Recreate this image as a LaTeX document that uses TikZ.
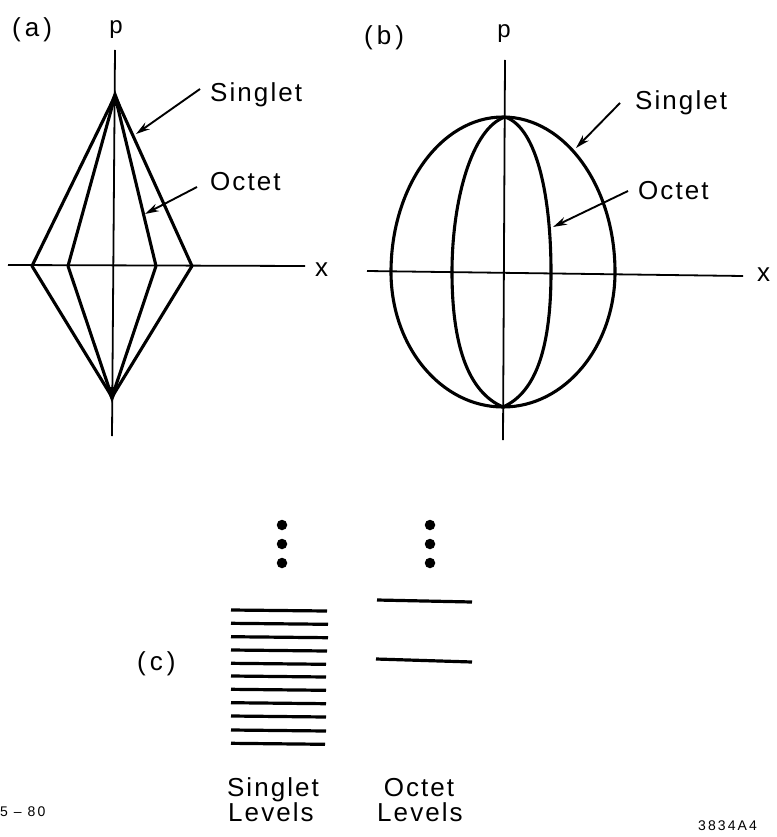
\documentclass[tikz,border=0pt]{standalone}
\usepackage{fontspec}
\setmainfont{Liberation Sans}
\newfontfamily\lab[LetterSpace=8]{Liberation Sans}
\newfontfamily\labsm[LetterSpace=15]{Liberation Sans}
\usetikzlibrary{arrows.meta}
\begin{document}
\begin{tikzpicture}[x=1pt,y=-1pt,
  axis/.style={line width=1.8pt},
  curve/.style={line width=3.1pt, line join=round},
  pointer/.style={line width=1.9pt,-{Stealth[length=14pt,width=8pt]}},
  lbl/.style={font=\lab\fontsize{26}{28}\selectfont, inner sep=0pt},
  plbl/.style={font=\lab\fontsize{24}{26}\selectfont, inner sep=0pt},
  level/.style={line width=3.2pt},
  dot/.style={circle, fill, inner sep=0pt, minimum size=10.5pt},
  small/.style={font=\labsm\fontsize{14}{16}\selectfont, inner sep=0pt}]
\useasboundingbox (0,0) rectangle (776,837);

% ---------------- panel (a) ----------------
\coordinate (ap1) at (115,50);
\coordinate (ap2) at (112,436);
\coordinate (ax1) at (8,265);
\coordinate (ax2) at (305,266);
\draw[axis] (ap1) -- (ap2);
\draw[axis] (ax1) -- (ax2);
\coordinate (aT) at (115,96);
\coordinate (aB) at (112,397);
\coordinate (aL1) at (32,266);
\coordinate (aL2) at (68,266);
\coordinate (aR2) at (156,266);
\coordinate (aR1) at (192,266);
\draw[curve] (aT) -- (aL1) -- (aB) -- (aR1) -- cycle;
\draw[curve] (aT) -- (aL2) -- (aB) -- (aR2) -- cycle;
\fill (115,90) -- (109,106) -- (121,106) -- cycle;
\fill (112,403) -- (106,387) -- (118,387) -- cycle;
\node[lbl, anchor=base west] (alab) at (12,37) {(\hspace{4pt}a\hspace{4pt})};
\node[plbl, anchor=base] (ap) at (116,34) {p};
\node[lbl, anchor=base west] (axl) at (315,276) {x};
\node[lbl, anchor=base west] (aS) at (210,102) {Singlet};
\node[lbl, anchor=base west] (aO) at (210,190) {Octet};
\coordinate (aSs) at (200,89);
\coordinate (aSt) at (136,134);
\coordinate (aOs) at (197,187);
\coordinate (aOt) at (145,214);
\draw[pointer] (aSs) -- (aSt);
\draw[pointer] (aOs) -- (aOt);

% ---------------- panel (b) ----------------
\coordinate (bp1) at (505,60);
\coordinate (bp2) at (503,440);
\coordinate (bx1) at (367,271);
\coordinate (bx2) at (743,276);
\draw[axis] (bp1) -- (bp2);
\draw[axis] (bx1) -- (bx2);
\coordinate (bL) at (391,272);
\coordinate (bR) at (615,272);
\coordinate (bT) at (505,117);
\coordinate (bB) at (503,407);
\coordinate (bIR) at (551,272);
\coordinate (bIL) at (452,272);
\draw[curve] (bL) arc[start angle=180, end angle=360, x radius=112, y radius=155]
   arc[start angle=0, end angle=180, x radius=112, y radius=135] -- cycle;
\draw[curve] (bT) .. controls (538,128) and (551,200) .. (bIR)
   .. controls (551,345) and (537,392) .. (bB);
\draw[curve] (bT) .. controls (472,128) and (452,200) .. (bIL)
   .. controls (452,345) and (468,392) .. (bB);
\node[lbl, anchor=base west] (blab) at (364,45) {(\hspace{4pt}b\hspace{4pt})};
\node[plbl, anchor=base] (bp) at (504,38) {p};
\node[lbl, anchor=base west] (bxl) at (757,281) {x};
\node[lbl, anchor=base west] (bS) at (635,110) {Singlet};
\node[lbl, anchor=base west] (bO) at (638,200) {Octet};
\coordinate (bSs) at (620,103);
\coordinate (bSt) at (576,148);
\coordinate (bOs) at (628,191);
\coordinate (bOt) at (553,227);
\draw[pointer] (bSs) -- (bSt);
\draw[pointer] (bOs) -- (bOt);

% ---------------- panel (c) ----------------
\node[dot] (sd1) at (282,525) {};
\node[dot] (sd2) at (282,544) {};
\node[dot] (sd3) at (282,563) {};
\node[dot] (od1) at (430,525) {};
\node[dot] (od2) at (430,544) {};
\node[dot] (od3) at (430,563) {};
\foreach \y/\r in {610/327, 623.3/328, 636.7/328, 650/327, 663.3/326, 676/326,
                   689.3/326, 702.7/326, 716/326, 730/326, 743.3/325}{
  \draw[level] (231,\y) -- (\r,\y+1);
}
\draw[level] (377,600) -- (472,602);
\draw[level] (376,659) -- (472,662);
\node[lbl, anchor=base west] (clab) at (137,670) {(\hspace{4pt}c\hspace{4pt})};
\node[lbl, anchor=base] (cs1) at (273,796) {Singlet};
\node[lbl, anchor=base] (cs2) at (271,821) {Levels};
\node[lbl, anchor=base] (co1) at (419,796) {Octet};
\node[lbl, anchor=base] (co2) at (420,821) {Levels};

\node[small, anchor=base west] (fl) at (0,816) {5 – 80};
\node[small, anchor=base west] (fr) at (698,830) {3834A4};
\end{tikzpicture}
\end{document}
